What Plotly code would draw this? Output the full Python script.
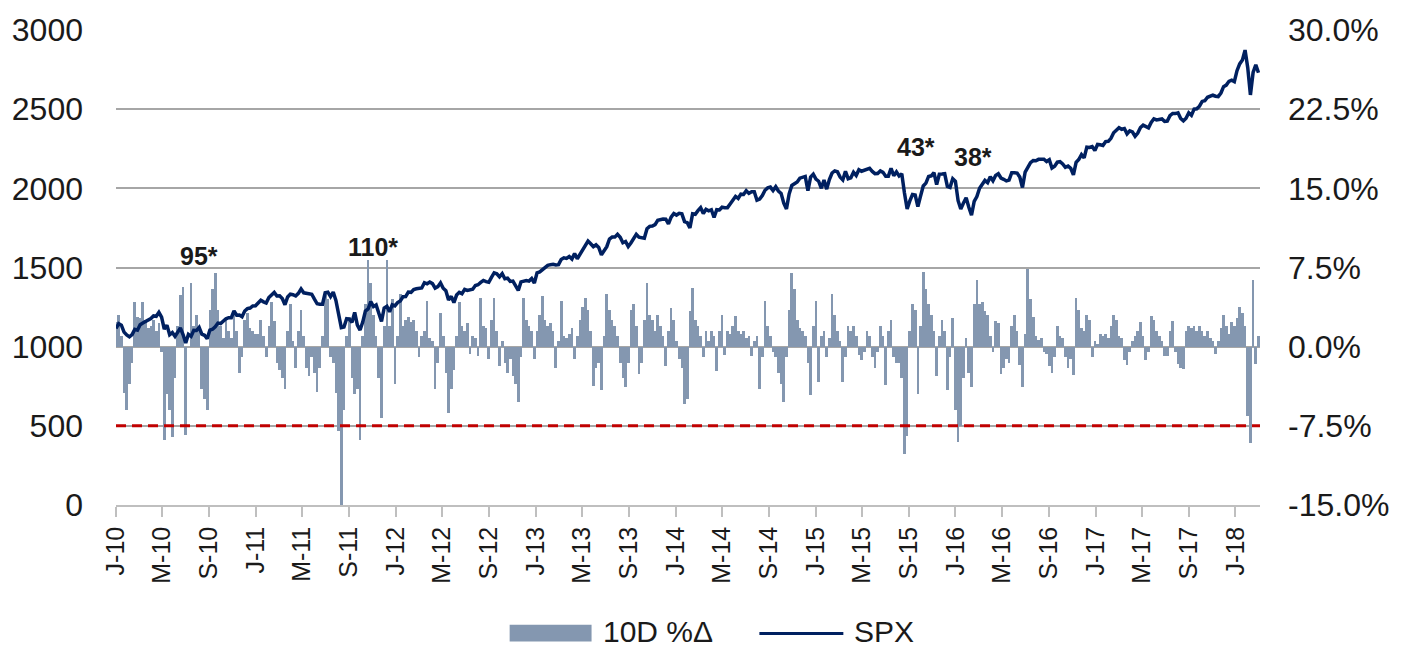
import pandas as pd
import plotly.graph_objects as go

# SPX weekly closes (week ending Friday)
spx_2010 = [1115, 1145, 1136, 1092, 1074, 1062, 1076, 1109, 1104, 1139, 1150, 1160, 1167, 1178, 1194, 1192, 1217, 1187,
            1111, 1136, 1075, 1089, 1065, 1092, 1118, 1077, 1023, 1078, 1065, 1103, 1102, 1122, 1079, 1072, 1050, 1105,
            1110, 1126, 1149, 1146, 1165, 1176, 1183, 1183, 1226, 1199, 1200, 1189, 1225, 1240, 1244, 1257, 1258]
spx_2011 = [1272, 1293, 1283, 1276, 1311, 1329, 1343, 1320, 1321, 1304, 1265, 1314, 1332, 1328, 1320, 1337, 1364, 1340,
            1338, 1333, 1331, 1300, 1271, 1268, 1268, 1340, 1344, 1316, 1345, 1292, 1199, 1120, 1124, 1177, 1174, 1154,
            1216, 1136, 1105, 1155, 1225, 1238, 1285, 1253, 1264, 1216, 1159, 1244, 1255, 1220, 1265, 1258]
spx_2012 = [1278, 1289, 1315, 1316, 1345, 1343, 1361, 1366, 1370, 1371, 1404, 1397, 1408, 1398, 1370, 1379, 1403, 1369,
            1353, 1295, 1318, 1278, 1326, 1343, 1335, 1362, 1355, 1357, 1363, 1386, 1391, 1406, 1418, 1411, 1407, 1438,
            1466, 1460, 1441, 1461, 1429, 1433, 1412, 1414, 1380, 1355, 1409, 1416, 1418, 1414, 1430, 1402]
spx_2013 = [1466, 1472, 1486, 1503, 1513, 1518, 1520, 1516, 1518, 1551, 1561, 1557, 1569, 1553, 1589, 1555, 1582, 1614,
            1634, 1667, 1650, 1631, 1643, 1627, 1580, 1606, 1632, 1680, 1692, 1692, 1710, 1691, 1656, 1664, 1633, 1655,
            1688, 1710, 1692, 1691, 1685, 1745, 1760, 1762, 1771, 1798, 1805, 1806, 1805, 1775, 1818, 1841]
spx_2014 = [1831, 1842, 1839, 1790, 1783, 1750, 1839, 1836, 1859, 1878, 1841, 1867, 1858, 1865, 1816, 1865, 1863, 1881,
            1878, 1878, 1901, 1924, 1949, 1936, 1963, 1961, 1985, 1968, 1978, 1978, 1925, 1932, 1955, 1988, 2003, 2008,
            1986, 2010, 1983, 1968, 1906, 1870, 1965, 2018, 2032, 2040, 2064, 2068, 2075, 1985, 2071, 2089]
spx_2015 = [2058, 2045, 2000, 2052, 1995, 2055, 2097, 2110, 2105, 2071, 2053, 2108, 2061, 2067, 2102, 2081, 2118, 2108,
            2116, 2123, 2126, 2107, 2093, 2094, 2110, 2101, 2077, 2077, 2127, 2080, 2104, 2078, 2092, 1971, 1870, 1921,
            1961, 1958, 1885, 1951, 2015, 2033, 2075, 2079, 2099, 2023, 2089, 2090, 2092, 2012, 2006, 2061]
spx_2016 = [2044, 1922, 1870, 1907, 1940, 1880, 1830, 1918, 1948, 2000, 2022, 2050, 2036, 2073, 2048, 2081, 2092, 2065,
            2057, 2047, 2052, 2099, 2099, 2096, 2071, 2005, 2103, 2130, 2162, 2175, 2174, 2183, 2184, 2184, 2169, 2180,
            2128, 2139, 2165, 2168, 2154, 2133, 2141, 2126, 2085, 2164, 2182, 2213, 2192, 2260, 2258, 2264, 2239]
spx_2017 = [2277, 2275, 2271, 2295, 2297, 2316, 2351, 2367, 2383, 2373, 2378, 2344, 2363, 2356, 2329, 2349, 2384, 2399,
            2391, 2382, 2416, 2439, 2432, 2433, 2438, 2423, 2425, 2459, 2473, 2472, 2477, 2441, 2426, 2443, 2477, 2461,
            2500, 2502, 2519, 2549, 2553, 2575, 2581, 2588, 2582, 2579, 2602, 2642, 2652, 2676, 2683, 2674]
spx_2018 = [2743, 2786, 2810, 2873, 2762, 2590, 2732, 2780, 2730]

# 10-day % change, one bar per week
chg_2010 = [2.3, 3.0, 1.0, -4.4, -6.0, -3.5, -1.5, 4.2, 2.8, 2.7, 4.2, 2.5, 1.8, 2.0, 2.5, 1.5, 2.2, -0.5, -8.8, -4.5,
            -6.0, -8.6, -3.0, 2.0, 4.9, 5.7, -8.4, 0.0, 6.0, 2.0, 3.0, 1.7, -4.0, -5.0, -6.0, 3.5, 5.5, 7.0, 3.5, 2.0,
            0.8, 2.5, 1.5, 0.8, 3.2, 1.5, -2.5, -1.0, 2.5, 3.2, 1.8, 1.5, 1.2]
chg_2011 = [1.2, 2.5, 1.0, -1.0, 2.0, 4.2, 2.4, -1.5, -2.2, -3.0, -4.0, 1.5, 4.0, 0.5, -2.0, 1.5, 3.5, 1.0, -2.0, -2.8,
            -1.0, -2.5, -4.3, -2.0, 1.0, 5.0, 4.5, -1.0, -1.5, -4.4, -8.0, -15.5, -6.0, 1.0, 2.8, -3.0, -4.5, -4.0, -8.8,
            1.0, 4.0, 8.2, 6.0, 3.0, 1.0, -3.0, -6.8, 2.0, 8.2, 2.0, 4.5, -3.5]
chg_2012 = [1.0, 5.0, 2.0, 2.5, 2.8, 2.3, 2.5, 1.5, -1.0, 1.0, 1.5, 4.3, 0.8, 0.5, -4.0, -1.5, 3.2, 1.0, -2.5, -6.3,
            -4.0, -2.2, 1.0, 4.2, 2.0, 1.5, 2.2, -0.7, 1.0, 0.8, -0.9, 4.6, 2.0, 1.8, -1.2, 2.5, 4.6, 1.5, -1.8, 0.5,
            -1.5, -2.5, -1.2, -2.8, -3.5, -5.2, -1.0, 4.6, 2.5, 2.0, 1.5, -1.2]
chg_2013 = [1.5, 3.0, 4.8, 2.5, 2.0, 2.2, 1.5, -2.0, 0.5, 4.3, 1.0, 0.8, 1.2, 1.8, -1.2, 1.0, 2.5, 3.8, 4.6, 3.5,
            1.5, -3.7, -2.0, -1.5, -4.1, 1.0, 5.0, 3.5, 2.5, 2.0, 1.0, -1.5, -3.0, -3.8, -1.5, 3.5, 4.0, 2.0, -2.6, -1.5,
            2.5, 6.0, 3.0, 2.5, 1.5, 3.0, 2.0, 1.0, -1.8, 1.5, 3.7, 2.5]
chg_2014 = [0.5, -1.2, -2.0, -5.4, -5.0, 3.4, 5.6, 2.5, 2.0, 1.0, -1.0, 1.5, 0.5, 1.5, 1.0, -2.3, 1.5, 3.0, -0.8, 1.5,
            1.2, 2.0, 2.9, 1.5, 1.2, 1.5, 0.8, 1.0, -0.9, 0.5, 1.0, -4.0, -1.0, 4.3, 2.0, 1.0, -0.5, -1.0, -2.5, -3.5,
            -5.2, -1.0, 3.5, 7.0, 5.5, 2.5, 1.8, 1.5, 1.0, -1.5, -4.6, 2.0]
chg_2015 = [4.3, -3.3, 1.0, 1.5, -1.0, 0.8, 5.0, 3.0, 1.5, 0.5, -3.3, -1.0, 2.0, 1.5, 2.0, 1.0, -0.8, -1.3, -0.5, 1.5,
            1.0, -1.0, -2.0, -0.5, 2.0, 1.0, -3.6, 1.5, 2.5, -1.0, -1.5, -1.5, -3.0, -10.2, -8.5, 1.5, 4.0, 3.5, -4.5, 2.0,
            7.1, 5.5, 4.0, 3.0, 1.5, -2.8, 1.0, 2.5, 1.5, -4.1, -1.0, 2.7]
chg_2016 = [-6.0, -9.0, -7.5, -3.0, 0.8, -2.5, -3.8, 4.0, 6.3, 4.0, 4.2, 3.4, 3.0, 1.0, -0.5, 2.4, 2.2, -2.6, -2.0, -1.2,
            -1.5, 2.0, 3.0, 1.5, -1.7, -3.8, 1.2, 7.4, 4.5, 2.8, 1.0, 0.6, 0.8, -0.5, -0.7, -1.8, -2.5, -1.0, 2.0, 1.0,
            0.8, -1.0, -2.0, -1.2, -2.7, 4.6, 3.5, 1.8, 1.5, 3.0, 2.5, -1.0, 0.5]
chg_2017 = [0.3, 1.2, 1.0, 1.2, 0.8, 2.0, 3.0, 2.5, 1.0, 0.8, -1.3, -1.7, -0.5, 0.5, 1.0, 1.5, 2.3, 1.0, -1.3, -0.5,
            2.9, 2.5, 1.5, 1.0, 0.5, -0.9, -0.9, 1.5, 2.4, -0.5, -1.6, -2.0, -2.1, 1.5, 2.0, 1.8, 2.0, 1.5, 2.0, 1.5,
            1.0, 1.5, 0.8, 0.5, -0.7, 0.5, 1.8, 3.0, 2.0, 1.2, 2.3, 2.0]
chg_2018 = [2.7, 3.8, 3.2, 2.0, -6.6, -9.1, 6.3, -1.6, 1.0]

spx_by_year = {2010: spx_2010, 2011: spx_2011, 2012: spx_2012, 2013: spx_2013, 2014: spx_2014,
               2015: spx_2015, 2016: spx_2016, 2017: spx_2017, 2018: spx_2018}
chg_by_year = {2010: chg_2010, 2011: chg_2011, 2012: chg_2012, 2013: chg_2013, 2014: chg_2014,
               2015: chg_2015, 2016: chg_2016, 2017: chg_2017, 2018: chg_2018}

tick_labels = ["J-10", "M-10", "S-10", "J-11", "M-11", "S-11", "J-12", "M-12", "S-12", "J-13", "M-13", "S-13",
               "J-14", "M-14", "S-14", "J-15", "M-15", "S-15", "J-16", "M-16", "S-16", "J-17", "M-17", "S-17", "J-18"]
pct_vals = [-15, -7.5, 0, 7.5, 15, 22.5, 30]
pct_labels = ["-15.0%", "-7.5%", "0.0%", "7.5%", "15.0%", "22.5%", "30.0%"]
spx_vals = [0, 500, 1000, 1500, 2000, 2500, 3000]

notes = [("2010-08-06", 1575, "95*"), ("2011-11-02", 1632, "110*"),
         ("2015-09-20", 2262, "43*"), ("2016-02-16", 2200, "38*")]

# weekly Friday dates, year by year
frames = []
for yr in spx_by_year:
    d = pd.date_range(f"{yr}-01-01", periods=len(spx_by_year[yr]), freq="W-FRI")
    frames.append(pd.DataFrame({"date": d, "spx": spx_by_year[yr], "chg": chg_by_year[yr]}))
df = pd.concat(frames, ignore_index=True)

tick_dates = pd.date_range("2010-01-01", periods=len(tick_labels), freq="4MS")

FONT = "Liberation Sans, Arial, sans-serif"
BAR = "#8497B0"
NAVY = "#002060"

fig = go.Figure()
fig.add_trace(go.Bar(x=df["date"], y=df["chg"], name="10D %Δ", marker_color=BAR,
                     marker_line_width=0, yaxis="y"))
fig.add_trace(go.Scatter(x=df["date"], y=df["spx"], name="SPX", mode="lines",
                         line=dict(color=NAVY, width=3.5), yaxis="y2"))

fig.update_layout(
    width=1409, height=649,
    margin=dict(l=115, r=149, t=28, b=144),
    plot_bgcolor="white", paper_bgcolor="white",
    font=dict(family=FONT, color="#1a1a1a"),
    bargap=0,
    showlegend=False,
    xaxis=dict(type="date", range=["2010-01-01", "2018-03-06"],
               tickvals=tick_dates, ticktext=tick_labels, tickangle=-90,
               tickfont=dict(size=25), ticks="outside", ticklen=10, tickwidth=1.5,
               tickcolor="#BFBFBF", showline=True, linecolor="#BFBFBF", linewidth=1.5,
               showgrid=False, zeroline=False),
    yaxis=dict(side="right", range=[-15, 30], tickvals=pct_vals, ticktext=pct_labels,
               tickfont=dict(size=32), showgrid=True, gridcolor="#A6A6A6", gridwidth=1.5,
               zeroline=False, showline=False, ticks="", ticklabelstandoff=27),
    yaxis2=dict(side="left", overlaying="y", range=[0, 3000], tickvals=spx_vals,
                tickfont=dict(size=32), showgrid=False, zeroline=False, showline=False,
                ticks="", ticklabelstandoff=32),
)

# -7.5% threshold
fig.add_shape(type="line", xref="paper", x0=0, x1=1, yref="y2", y0=500, y1=500,
              line=dict(color="#C00000", width=3, dash="10px,6px"))

for x, y, t in notes:
    fig.add_annotation(x=x, y=y, xref="x", yref="y2", text=f"<b>{t}</b>", showarrow=False,
                       font=dict(size=25, color="#1a1a1a"))

# legend drawn below the axis
fig.add_shape(type="rect", xref="paper", yref="paper", x0=0.3441, x1=0.4157, y0=-0.2875, y1=-0.252,
              fillcolor=BAR, line_width=0)
fig.add_shape(type="line", xref="paper", yref="paper", x0=0.5624, x1=0.6358, y0=-0.2705, y1=-0.2705,
              line=dict(color=NAVY, width=3))
fig.add_annotation(xref="paper", yref="paper", x=0.4236, y=-0.2655, text="10D %Δ", showarrow=False,
                   xanchor="left", yanchor="middle", font=dict(size=30))
fig.add_annotation(xref="paper", yref="paper", x=0.6437, y=-0.2655, text="SPX", showarrow=False,
                   xanchor="left", yanchor="middle", font=dict(size=30))

fig.write_html("out.html", config={"displayModeBar": False},
               post_script="document.body.style.margin='0';")
